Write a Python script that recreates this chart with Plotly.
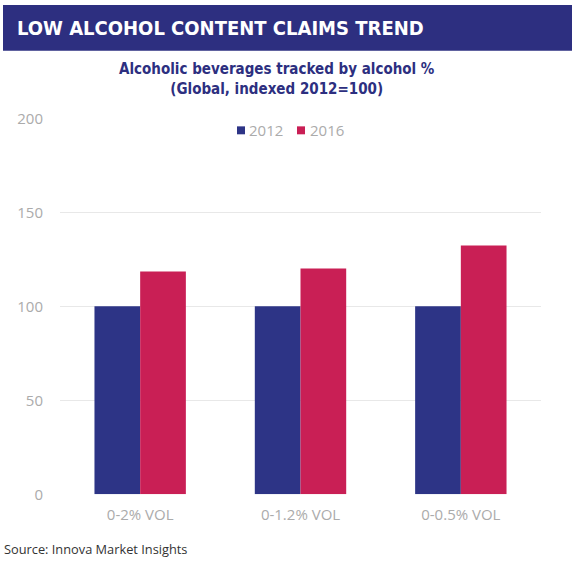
import plotly.graph_objects as go

# chart data
categories = ['0-2% VOL', '0-1.2% VOL', '0-0.5% VOL']
series_names = ['2012', '2016']
values_2012 = [100, 100, 100]
values_2016 = [118.6, 120.2, 132.4]
y_ticks = [0, 50, 100, 150, 200]

W, H = 576, 565
NAVY = '#2D2F80'
BLUE = '#2D3486'
RED = '#C91F55'
GREY = '#ABABAB'
NARROW = 'DejaVu Sans Condensed, Liberation Sans Narrow, Liberation Sans, Arial, sans-serif'


# pixel -> paper helpers (vertical one corrects for the 8px / 0.97 squeeze seen in the render)
def px_x(x):
    return x / W


def px_y(y):
    return 1 - ((y - 8) / 0.97) / H


fig = go.Figure()
fig.add_trace(go.Bar(x=categories, y=values_2012, name=series_names[0],
                     marker=dict(color=BLUE, line=dict(width=0))))
fig.add_trace(go.Bar(x=categories, y=values_2016, name=series_names[1],
                     marker=dict(color=RED, line=dict(width=0))))

fig.update_layout(
    width=W, height=H,
    margin=dict(l=0, r=0, t=0, b=0),
    paper_bgcolor='white',
    plot_bgcolor='white',
    barmode='group',
    bargap=0.43,
    bargroupgap=0,
    showlegend=False,
    xaxis=dict(domain=[px_x(60), px_x(541)], showline=False, showgrid=False,
               ticks='', tickfont=dict(family='Open Sans', size=15, color=GREY),
               ticklabelstandoff=10),
    yaxis=dict(domain=[px_y(494), px_y(116)], range=[0, 200], tickvals=y_ticks,
               showgrid=True, gridcolor='#E8E8E8', gridwidth=1, zeroline=False,
               showline=False, ticks='',
               tickfont=dict(family='Open Sans', size=15, color=GREY),
               ticklabelstandoff=16),
)

# legend drawn by hand so the swatch/text spacing matches
legend_pos = [(237, 247), (297, 308)]
for name, colour, (sx, tx) in zip(series_names, [BLUE, RED], legend_pos):
    fig.add_shape(type='rect', xref='paper', yref='paper',
                  x0=px_x(sx), x1=px_x(sx + 8), y0=px_y(132), y1=px_y(124),
                  fillcolor=colour, line=dict(width=0))
    fig.add_annotation(xref='paper', yref='paper', x=px_x(tx), y=px_y(128),
                       xanchor='left', yanchor='middle', showarrow=False, text=name,
                       font=dict(family='Open Sans', size=15, color=GREY))

# header band
fig.add_shape(type='rect', xref='paper', yref='paper',
              x0=px_x(3), x1=px_x(572), y0=px_y(48), y1=px_y(2),
              fillcolor=NAVY, line=dict(width=0), layer='below')
fig.add_annotation(xref='paper', yref='paper', x=px_x(15), y=px_y(25),
                   xanchor='left', yanchor='middle', showarrow=False,
                   text='<b>LOW ALCOHOL CONTENT CLAIMS TREND</b>',
                   font=dict(family=NARROW, size=20, color='white'))

# chart title
fig.add_annotation(xref='paper', yref='paper', x=px_x(277), y=px_y(76),
                   xanchor='center', yanchor='middle', showarrow=False,
                   text='<b>Alcoholic beverages tracked by alcohol %<br>(Global, indexed 2012=100)</b>',
                   font=dict(family=NARROW, size=15, color=NAVY))

# source
fig.add_annotation(xref='paper', yref='paper', x=px_x(2), y=px_y(549),
                   xanchor='left', yanchor='middle', showarrow=False,
                   text='Source: Innova Market Insights',
                   font=dict(family='Open Sans', size=12.8, color='#333333'))

fig.write_html('out.html', config={'displayModeBar': False},
               post_script="document.body.style.margin='0';document.body.style.overflow='hidden';")
